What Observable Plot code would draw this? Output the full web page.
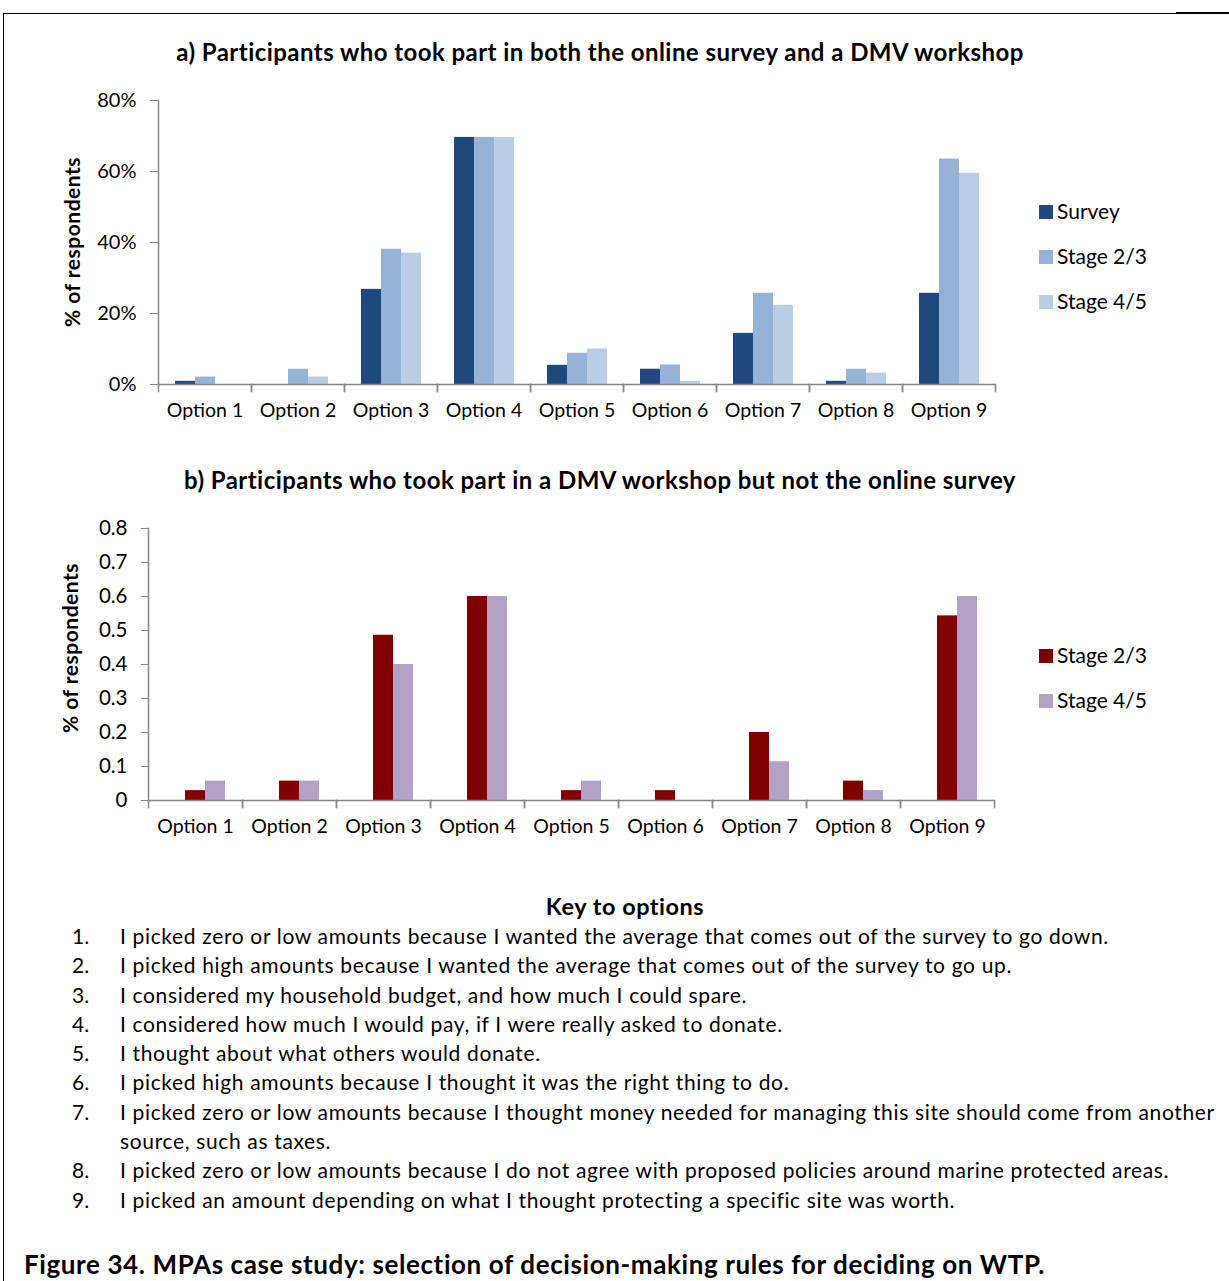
<!DOCTYPE html>
<html><head><meta charset="utf-8">
<script src="https://cdn.jsdelivr.net/npm/d3@7"></script>
<script src="https://cdn.jsdelivr.net/npm/@observablehq/plot@0.6"></script>
<style>
body{margin:0;background:#fff;font-family:Lato,"Open Sans",sans-serif;color:#000;}
#page{position:relative;width:1229px;height:1281px;overflow:hidden;background:#fff;}
.abs{position:absolute;}
.title{font-weight:bold;font-size:24px;letter-spacing:0.45px;left:0;width:1200px;text-align:center;line-height:26px;white-space:nowrap;}
.ylab{font-weight:bold;font-size:21px;letter-spacing:0.5px;width:260px;text-align:center;transform:translate(-50%,-50%) rotate(-90deg);line-height:24px;white-space:nowrap;}
.legend{font-size:21px;line-height:24px;}
.legend .item{position:absolute;left:0;white-space:nowrap;}
.legend .sw{display:inline-block;width:14px;height:14px;margin-right:4px;vertical-align:0px;}
.key{font-size:21px;letter-spacing:0.65px;line-height:29.3px;white-space:nowrap;}
.key .row{position:relative;height:29.3px;}
.key .n{position:absolute;left:0;letter-spacing:0;}
.key .t{position:absolute;left:48px;}
.chart svg{overflow:visible;}
</style></head>
<body><div id="page">
<div class="abs" style="left:3px;top:13px;width:1226px;height:1px;background:#000"></div>
<div class="abs" style="left:1176px;top:12px;width:53px;height:2px;background:#000"></div>
<div class="abs" style="left:3px;top:13px;width:1px;height:1268px;background:#000"></div>

<div class="abs title" style="top:39px;">a) Participants who took part in both the online survey and a DMV workshop</div>
<div class="abs ylab" style="left:72px;top:242px;">% of respondents</div>
<div id="chartA" class="abs chart" style="left:0;top:80px;"></div>
<div id="legendA" class="abs legend" style="left:1039px;top:0;"></div>

<div class="abs title" style="top:467px;">b) Participants who took part in a DMV workshop but not the online survey</div>
<div class="abs ylab" style="left:70px;top:648px;">% of respondents</div>
<div id="chartB" class="abs chart" style="left:0;top:508px;"></div>
<div id="legendB" class="abs legend" style="left:1039px;top:0;"></div>

<div class="abs" style="left:0;width:1250px;top:893px;text-align:center;font-weight:bold;font-size:23.5px;letter-spacing:0.5px;line-height:26px;">Key to options</div>
<div id="key" class="abs key" style="left:72px;top:921px;"></div>

<div class="abs" style="left:24px;top:1249px;font-weight:bold;font-size:26px;letter-spacing:0.6px;line-height:30px;white-space:nowrap;">Figure 34. MPAs case study: selection of decision-making rules for deciding on WTP.</div>
</div>
<script>
// ---- data ----
const options = ["Option 1","Option 2","Option 3","Option 4","Option 5","Option 6","Option 7","Option 8","Option 9"];
const seriesA = ["Survey","Stage 2/3","Stage 4/5"];
const surveyA  = [0.009, 0,     0.268, 0.696, 0.054, 0.043, 0.144, 0.009, 0.257];
const stage23A = [0.021, 0.043, 0.381, 0.696, 0.088, 0.055, 0.257, 0.043, 0.635];
const stage45A = [0,     0.021, 0.370, 0.696, 0.100, 0.009, 0.223, 0.032, 0.595];
const colorsA = ["#1F497D","#95B3D7","#B9CDE5"];
const ticksA = [0, 0.2, 0.4, 0.6, 0.8];

const slotsB = ["Survey","Stage 2/3","Stage 4/5"]; // Survey slot is empty in panel b
const seriesB = ["Stage 2/3","Stage 4/5"];
const stage23B = [0.029, 0.057, 0.486, 0.600, 0.029, 0.029, 0.200, 0.057, 0.543];
const stage45B = [0.057, 0.057, 0.400, 0.600, 0.057, 0,     0.114, 0.029, 0.600];
const colorsB = ["#800000","#B3A2C7"];
const ticksB = [0, 0.1, 0.2, 0.3, 0.4, 0.5, 0.6, 0.7, 0.8];

const keyItems = [
  "I picked zero or low amounts because I wanted the average that comes out of the survey to go down.",
  "I picked high amounts because I wanted the average that comes out of the survey to go up.",
  "I considered my household budget, and how much I could spare.",
  "I considered how much I would pay, if I were really asked to donate.",
  "I thought about what others would donate.",
  "I picked high amounts because I thought it was the right thing to do.",
  "I picked zero or low amounts because I thought money needed for managing this site should come from another\nsource, such as taxes.",
  "I picked zero or low amounts because I do not agree with proposed policies around marine protected areas.",
  "I picked an amount depending on what I thought protecting a specific site was worth."
];

// ---- tidy tables ----
const dataA = [];
[surveyA, stage23A, stage45A].forEach((vals, si) => vals.forEach((v, i) => dataA.push({option: options[i], series: seriesA[si], value: v})));
const dataB = [];
[stage23B, stage45B].forEach((vals, si) => vals.forEach((v, i) => dataB.push({option: options[i], series: seriesB[si], value: v})));

const axisGray = "#868686";
const fontFam = "Lato, 'Open Sans', sans-serif";

function makeChart({data, slots, seriesDomain, colors, ticks, fmt, marginLeft, height, marginBottom, tickLen, yFont}) {
  const marginTop = 20;
  const plotH = height - marginTop - marginBottom;
  return Plot.plot({
    width: 1000, height, marginLeft, marginRight: 5, marginTop, marginBottom,
    style: {fontFamily: fontFam, fontSize: "19px", color: "#000", background: "transparent"},
    fx: {domain: options, padding: 0, label: null},
    x: {domain: slots, paddingInner: 0, paddingOuter: 0.77, axis: null},
    y: {domain: [0, 0.8], label: null},
    color: {domain: seriesDomain, range: colors},
    marks: [
      Plot.barY(data, {fx: "option", x: "series", y: "value", fill: "series"}),
      Plot.ruleY([0], {stroke: axisGray, strokeWidth: 1.5}),
      Plot.frame({anchor: "left", facetAnchor: "left", stroke: axisGray, strokeWidth: 1.5}),
      Plot.frame({anchor: "left", stroke: axisGray, strokeWidth: 1.5, insetTop: plotH, insetBottom: -7}),
      Plot.frame({anchor: "right", stroke: axisGray, strokeWidth: 1.5, insetTop: plotH, insetBottom: -7}),
      Plot.axisY({ticks, tickFormat: fmt, tickSize: tickLen, tickPadding: 14, stroke: axisGray, fill: "#000", label: null, fontSize: yFont}),
      Plot.axisFx({anchor: "bottom", tickSize: 0, tickPadding: 19, label: null, fill: "#000", fontSize: 19.5})
    ]
  });
}

document.getElementById("chartA").appendChild(makeChart({
  data: dataA, slots: seriesA, seriesDomain: seriesA, colors: colorsA, ticks: ticksA,
  fmt: d3.format(".0%"), marginLeft: 158, height: 350, marginBottom: 46, tickLen: 8, yFont: 20
}));
document.getElementById("chartB").appendChild(makeChart({
  data: dataB, slots: slotsB, seriesDomain: seriesB, colors: colorsB, ticks: ticksB,
  fmt: d => d === 0 ? "0" : d3.format(".1f")(d), marginLeft: 147, height: 340, marginBottom: 48, tickLen: 7, yFont: 20.5
}));

function legend(id, names, colors, centers) {
  const el = document.getElementById(id);
  names.forEach((n, i) => {
    const it = document.createElement("div");
    it.className = "item";
    it.style.top = (centers[i] - 12) + "px";
    it.innerHTML = `<span class="sw" style="background:${colors[i]}"></span>${n}`;
    el.appendChild(it);
  });
}
legend("legendA", seriesA, colorsA, [211, 256, 301]);
legend("legendB", seriesB, colorsB, [655, 700]);

const key = document.getElementById("key");
keyItems.forEach((t, i) => {
  const lines = t.split("\n");
  lines.forEach((ln, j) => {
    const row = document.createElement("div");
    row.className = "row";
    row.innerHTML = (j === 0 ? `<span class="n">${i + 1}.</span>` : "") + `<span class="t"></span>`;
    row.querySelector(".t").textContent = ln;
    key.appendChild(row);
  });
});
</script>
</body></html>
